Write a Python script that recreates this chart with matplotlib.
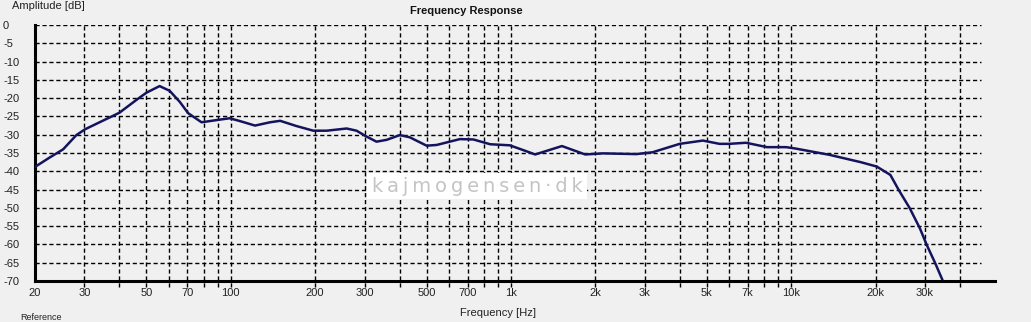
import matplotlib
matplotlib.use("Agg")
import matplotlib.pyplot as plt
import matplotlib.transforms as mtransforms

# ---- data ----
freq = [20, 22.6, 25.2, 28.1, 30.2, 34, 40, 46, 50, 55.7, 60.5, 65.7, 70.4, 78.6, 89, 99,
        107, 122, 138, 150, 171, 197, 220, 259, 281, 305, 331, 360, 401, 435, 500, 543,
        657, 734, 842, 990, 1105, 1220, 1520, 1840, 2130, 2800, 3200, 4000, 4840, 5550,
        6000, 6900, 8200, 9600, 10400, 13700, 17700, 20200, 22600, 24200, 26500, 28800,
        30500, 32700, 34800]
amp = [-38.8, -36.2, -34.0, -30.1, -28.5, -26.6, -24.0, -20.5, -18.5, -16.7, -18.0, -21.0,
       -24.1, -26.6, -26.0, -25.5, -26.2, -27.5, -26.6, -26.2, -27.6, -28.9, -28.9, -28.3,
       -28.9, -30.5, -31.9, -31.4, -30.1, -30.7, -33.0, -32.8, -31.2, -31.3, -32.6, -32.9,
       -34.2, -35.4, -33.1, -35.4, -35.1, -35.3, -34.8, -32.5, -31.6, -32.5, -32.5, -32.2,
       -33.4, -33.4, -33.8, -35.5, -37.5, -38.7, -41.0, -45.1, -50.1, -55.6, -60.2, -65.2,
       -70.0]

xtick_vals = [20, 30, 50, 70, 100, 200, 300, 500, 700, 1000, 2000, 3000, 5000, 7000,
              10000, 20000, 30000]
xtick_labels = ["20", "30", "50", "70", "100", "200", "300", "500", "700", "1k", "2k",
                "3k", "5k", "7k", "10k", "20k", "30k"]
xgrid_vals = [20, 30, 40, 50, 60, 70, 80, 90, 100, 200, 300, 400, 500, 600, 700, 800, 900,
              1000, 2000, 3000, 4000, 5000, 6000, 7000, 8000, 9000, 10000, 20000, 30000, 40000]
ytick_vals = [0, -5, -10, -15, -20, -25, -30, -35, -40, -45, -50, -55, -60, -65, -70]
ytick_labels = ["0", "-5", "-10", "-15", "-20", "-25", "-30", "-35", "-40", "-45", "-50",
                "-55", "-60", "-65", "-70"]

# ---- figure ----
W, H = 1031, 322
bg = "#f0f0f0"
fig = plt.figure(figsize=(W / 100, H / 100), dpi=100, facecolor=bg)
plt.rcParams["font.family"] = ["Liberation Sans", "DejaVu Sans"]

x0, x1, ytop, ybot = 35, 987, 25, 281
ax = fig.add_axes([x0 / W, (H - ybot) / H, (x1 - x0) / W, (ybot - ytop) / H])
ax.set_facecolor(bg)
ax.set_xscale("log")
ax.set_xlim(20, 50000)
ax.set_ylim(-70, 0)

grid_kw = dict(color="black", linewidth=1.0, linestyle=(0, (3, 2)))
# horizontal grid
for yv in ytick_vals[:-1]:
    ax.plot([20, 47700], [yv, yv], **grid_kw, zorder=1)
# vertical grid with tick extension below the axis
trans = mtransforms.blended_transform_factory(ax.transData, ax.transAxes)
for xv in xgrid_vals[1:]:
    ax.plot([xv, xv], [-0.025, 1.0], transform=trans, clip_on=False, **grid_kw, zorder=1)

ax.plot(freq, amp, color="#14145e", linewidth=1.8, zorder=3, solid_capstyle="round",
        solid_joinstyle="round")

for s in ["top", "right", "bottom"]:
    ax.spines[s].set_visible(False)
ax.spines["left"].set_linewidth(2.2)
ax.spines["left"].set_color("black")
# bottom axis line extending past the plot area
ax.plot([0, (995 - x0) / (x1 - x0)], [0, 0], transform=ax.transAxes, color="black",
        linewidth=2.2, clip_on=False, zorder=4)

ax.set_xticks(xtick_vals)
ax.set_xticklabels(xtick_labels)
ax.xaxis.set_minor_locator(matplotlib.ticker.NullLocator())
ax.set_yticks(ytick_vals)
ax.set_yticklabels(ytick_labels)
ax.tick_params(axis="x", length=0, pad=5, labelsize=8, labelcolor="#222222")
ax.tick_params(axis="y", length=0, pad=23, labelsize=8, labelcolor="#222222")
for lab in ax.get_yticklabels():
    lab.set_horizontalalignment("left")

fig.text(466 / W, 1 - 11 / H, "Frequency Response", ha="center", va="center",
         fontsize=8, fontweight="bold", color="#111111")
fig.text(12 / W, 1 - 6 / H, "Amplitude [dB]", ha="left", va="center", fontsize=8,
         color="#222222")
fig.text(498 / W, 1 - 313 / H, "Frequency [Hz]", ha="center", va="center", fontsize=8,
         color="#222222")
fig.text(20 / W, 0.5 / H, "Reference", ha="left", va="bottom", fontsize=6.5,
         color="#222222")

# watermark
fig.patches.append(matplotlib.patches.Rectangle((367 / W, 1 - 199 / H), 220 / W, 26 / H,
                                                transform=fig.transFigure, facecolor="white",
                                                edgecolor="none", zorder=5))
fig.text(477 / W, 1 - 186 / H,
         "k\u2009a\u2009j\u2009m\u2009o\u2009g\u2009e\u2009n\u2009s\u2009e\u2009n\u2009\u00b7\u2009d\u2009k",
         ha="center", va="center", fontsize=14, color="#c4c4c4", zorder=6,
         family="DejaVu Sans")

fig.savefig("out.png", dpi=100, facecolor=bg)
